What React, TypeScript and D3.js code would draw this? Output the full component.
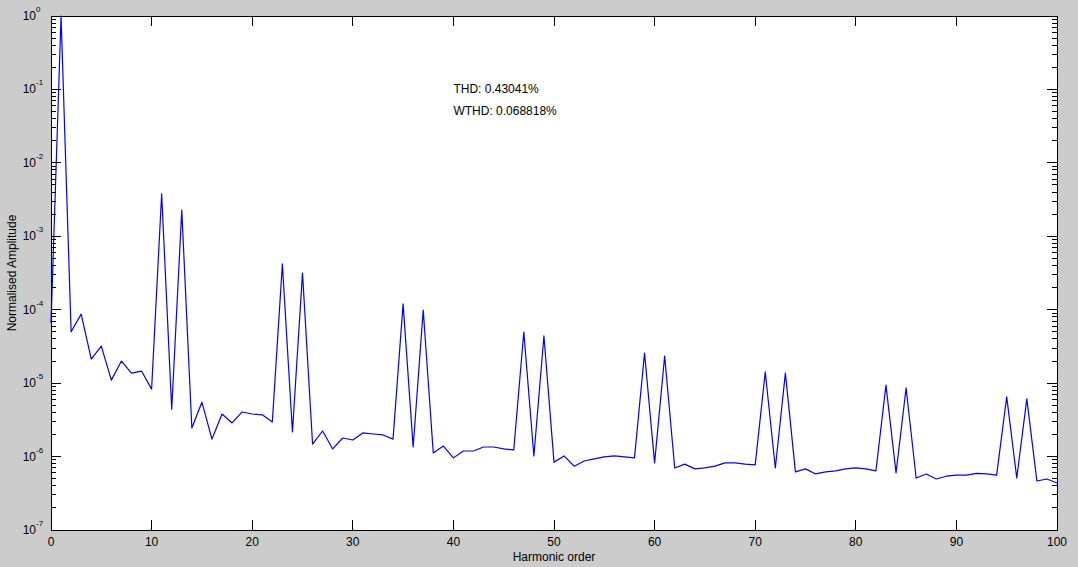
import React from "react";
import * as d3 from "d3";

// Normalised amplitude for harmonic orders 0..100 (index = harmonic order)
const amplitudes: number[] = [
  6.6e-5, 1.0, 5.0e-5, 8.7e-5, 2.13e-5, 3.2e-5, 1.1e-5, 2.0e-5, 1.37e-5, 1.46e-5,
  8.3e-6, 3.77e-3, 4.4e-6, 2.28e-3, 2.45e-6, 5.5e-6, 1.73e-6, 3.8e-6, 2.87e-6, 4.05e-6,
  3.8e-6, 3.7e-6, 2.96e-6, 4.2e-4, 2.16e-6, 3.16e-4, 1.48e-6, 2.23e-6, 1.27e-6, 1.79e-6,
  1.68e-6, 2.1e-6, 2.03e-6, 1.97e-6, 1.73e-6, 1.2e-4, 1.35e-6, 9.9e-5, 1.12e-6, 1.39e-6,
  9.6e-7, 1.19e-6, 1.19e-6, 1.35e-6, 1.35e-6, 1.27e-6, 1.23e-6, 4.97e-5, 1.02e-6, 4.39e-5,
  8.4e-7, 1.02e-6, 7.4e-7, 8.7e-7, 9.3e-7, 9.9e-7, 1.02e-6, 9.9e-7, 9.6e-7, 2.57e-5,
  8.2e-7, 2.34e-5, 7.0e-7, 7.9e-7, 6.8e-7, 7.0e-7, 7.4e-7, 8.2e-7, 8.2e-7, 7.9e-7,
  7.7e-7, 1.42e-5, 7.0e-7, 1.37e-5, 6.2e-7, 6.8e-7, 5.8e-7, 6.2e-7, 6.4e-7, 6.8e-7,
  7.0e-7, 6.8e-7, 6.4e-7, 9.4e-6, 6.0e-7, 8.6e-6, 5.1e-7, 5.8e-7, 4.95e-7, 5.4e-7,
  5.6e-7, 5.6e-7, 5.9e-7, 5.8e-7, 5.6e-7, 6.5e-6, 5.1e-7, 6.1e-6, 4.65e-7, 4.95e-7,
  4.37e-7,
];

const xTicks: number[] = [0, 10, 20, 30, 40, 50, 60, 70, 80, 90, 100];
const yExponents: number[] = [0, -1, -2, -3, -4, -5, -6, -7];
const minorMultipliers: number[] = [2, 3, 4, 5, 6, 7, 8, 9];

const annotations: string[] = ["THD: 0.43041%", "WTHD: 0.068818%"];
const xLabel = "Harmonic order";
const yLabel = "Normalised Amplitude";

const W = 1078;
const H = 567;
const L = 51, R = 1057, T = 16, B = 530;
const FONT = "'Liberation Sans', Arial, sans-serif";

export default function App() {
  const x = d3.scaleLinear().domain([0, 100]).range([L, R]);
  const y = d3.scaleLog().domain([1e-7, 1]).range([B, T]);

  const line = d3
    .line<number>()
    .x((_, i) => x(i))
    .y((d) => y(d));

  const minorVals: number[] = [];
  for (let e = -7; e < 0; e++) {
    for (const m of minorMultipliers) minorVals.push(m * Math.pow(10, e));
  }

  return (
    <svg
      width={W}
      height={H}
      style={{ position: "absolute", left: 0, top: 0, display: "block" }}
      fontFamily={FONT}
    >
      <rect x={0} y={0} width={W} height={H} fill="#cccccc" />
      <rect x={L} y={T} width={R - L} height={B - T} fill="#ffffff" />

      {/* data line */}
      <path
        d={line(amplitudes) || ""}
        fill="none"
        stroke="#0000ff"
        strokeWidth={1.2}
        strokeLinejoin="round"
      />

      {/* box */}
      <rect x={L} y={T} width={R - L} height={B - T} fill="none" stroke="#000" strokeWidth={1} shapeRendering="crispEdges" />

      {/* x ticks */}
      {xTicks.map((t) => (
        <g key={"xt" + t} shapeRendering="crispEdges">
          <line x1={x(t)} x2={x(t)} y1={B} y2={B - 10} stroke="#000" />
          <line x1={x(t)} x2={x(t)} y1={T} y2={T + 10} stroke="#000" />
          <text x={x(t)} y={546} textAnchor="middle" fontSize={12} fill="#000">
            {t}
          </text>
        </g>
      ))}

      {/* y major ticks */}
      {yExponents.map((e) => {
        const yy = y(Math.pow(10, e));
        return (
          <g key={"yt" + e}>
            <line x1={L} x2={L + 10} y1={yy} y2={yy} stroke="#000" shapeRendering="crispEdges" />
            <line x1={R} x2={R - 10} y1={yy} y2={yy} stroke="#000" shapeRendering="crispEdges" />
            <text x={36} y={yy + 4} textAnchor="end" fontSize={12} fill="#000">
              10
            </text>
            <text x={36} y={yy - 4} textAnchor="start" fontSize={8} fill="#000">
              {e}
            </text>
          </g>
        );
      })}

      {/* y minor ticks */}
      {minorVals.map((v, i) => (
        <g key={"ym" + i} shapeRendering="crispEdges">
          <line x1={L} x2={L + 5} y1={y(v)} y2={y(v)} stroke="#000" />
          <line x1={R} x2={R - 5} y1={y(v)} y2={y(v)} stroke="#000" />
        </g>
      ))}

      {/* annotations */}
      {annotations.map((a, i) => (
        <text key={a} x={x(40)} y={y(0.1) + 4 + i * 22} fontSize={12} fill="#000">
          {a}
        </text>
      ))}

      {/* axis labels */}
      <text x={(L + R) / 2} y={561} textAnchor="middle" fontSize={12} fill="#000">
        {xLabel}
      </text>
      <text
        transform={`translate(16, ${(T + B) / 2}) rotate(-90)`}
        textAnchor="middle"
        fontSize={12}
        fill="#000"
      >
        {yLabel}
      </text>
    </svg>
  );
}
